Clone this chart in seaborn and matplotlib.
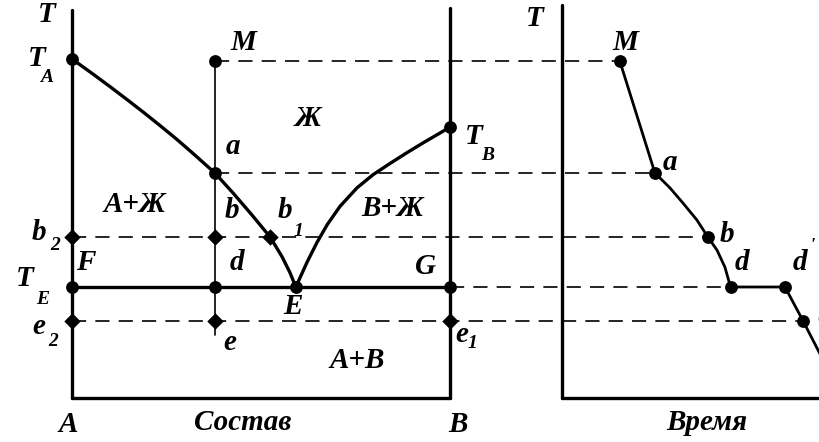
import matplotlib
matplotlib.use("Agg")
import matplotlib.pyplot as plt
import pandas as pd
import seaborn as sns

# --- Temperature levels (0 = bottom of the diagram) ---
T_A = 339      # melting point of A
T_M = 337      # starting temperature of the alloy (point M)
T_B = 271      # melting point of B
T_a = 225      # liquidus crossing of the alloy
T_b = 161      # intermediate level b
T_E = 111      # eutectic temperature
T_e = 77       # level below the eutectic

# --- Compositions (% B) ---
x_A = 0
x_B = 100
x_alloy = 37.8
x_b1 = 52.4
x_E = 59.2

# Liquidus branch starting at T_A
liq_A_x = [0, 5.6, 10.1, 14.6, 18.8, 23.3, 27.8, 32.0, 37.8,
           42.6, 47.6, 52.4, 55.6, 57.7, 59.2]
liq_A_T = [339, 323.8, 311.2, 298.3, 286.0, 272.4, 258.4, 244.6, 225,
           205, 183, 161, 141, 125, 111]
# Liquidus branch starting at T_B
liq_B_x = [59.2, 62.2, 64.8, 67.5, 70.9, 75.4, 79.6, 84.1, 88.6,
           92.9, 97.4, 100]
liq_B_T = [111, 136, 155.5, 173.3, 191.7, 210.2, 223.2, 234.5, 245.3,
           255.2, 265.1, 271]

# Cooling curve of the alloy M (time units)
cool_t = [15.3, 24.6, 28.6, 32.0, 35.7, 38.6, 41.0, 43.1, 44.6,
          59.0, 63.8, 69.5]
cool_T = [337, 225, 210, 195, 178, 161, 148, 131, 111,
          111, 77, 35]
# indices of the marked points M, a, b, d, d', e
i_M, i_a, i_b, i_d, i_d1, i_e = 0, 1, 5, 8, 9, 10

T_top_left = 388
T_top_right = 390
T_top_time = 393
T_alloy_end = 63

# horizontal position of the time axis on the shared canvas
t0 = 129.6

sns.set_theme(style="white")
plt.rcParams["font.family"] = ["Liberation Serif", "DejaVu Serif"]

fig = plt.figure(figsize=(8.19, 4.42), dpi=100)
ax = fig.add_axes([0, 0, 1, 1])
ax.set_xlim(-19.05, 197.6)
ax.set_ylim(-44, 398)
ax.axis("off")

K = "black"
thick = 2.4
thin = 1.2
dash = dict(lw=1.2, dashes=(8.5, 5.5))


def seg(xs, ys, **kw):
    df = pd.DataFrame({"x": xs, "y": ys})
    sns.lineplot(data=df, x="x", y="y", sort=False, estimator=None,
                 color=K, ax=ax, legend=False, **kw)


# frame of the phase diagram
seg([x_A, x_A], [T_top_left, 0], lw=thick)
seg([x_B, x_B], [T_top_right, 0], lw=thick)
seg([x_A, x_B], [0, 0], lw=thick)
# eutectic line
seg([x_A, x_B], [T_E, T_E], lw=thick)
# alloy vertical
seg([x_alloy, x_alloy], [T_M, T_alloy_end], lw=thin)
# liquidus branches
seg(liq_A_x, liq_A_T, lw=thick)
seg(liq_B_x, liq_B_T, lw=thick)

# cooling curve axes
seg([t0, t0], [T_top_time, 0], lw=thick)
seg([t0, 205], [0, 0], lw=thick)
cx = [t0 + t for t in cool_t]
seg(cx, cool_T, lw=2.0)

# projection lines between the diagram and the cooling curve
seg([x_alloy, cx[i_M]], [T_M, T_M], **dash)
seg([x_alloy, cx[i_a]], [T_a, T_a], **dash)
seg([x_A, cx[i_b]], [T_b, T_b], **dash)
seg([x_B, cx[i_d]], [T_E, T_E], **dash)
seg([x_A, cx[i_e]], [T_e, T_e], **dash)

# points
marked = [i_M, i_a, i_b, i_d, i_d1, i_e]
round_pts = pd.DataFrame({
    "x": [x_A, x_alloy, x_alloy, x_B, x_A, x_alloy, x_E, x_B]
         + [cx[i] for i in marked],
    "y": [T_A, T_M, T_a, T_B, T_E, T_E, T_E, T_E]
         + [cool_T[i] for i in marked],
})
sns.scatterplot(data=round_pts, x="x", y="y", s=85, color=K, linewidth=0,
                ax=ax, legend=False, zorder=5)
diam_pts = pd.DataFrame({
    "x": [x_A, x_alloy, x_b1, x_A, x_alloy, x_B],
    "y": [T_b, T_b, T_b, T_e, T_e, T_e],
})
sns.scatterplot(data=diam_pts, x="x", y="y", s=70, marker="D", color=K,
                linewidth=0, ax=ax, legend=False, zorder=5)

# labels
big = 21
small = 14
fkw = dict(style="italic", weight="bold", color=K, ha="center", va="center")


def lab(x, y, s, size=big):
    ax.text(x, y, s, fontsize=size, **fkw)


lab(-6.6, 383, "T")
lab(122.5, 380, "T")
lab(-9.3, 340, "T"); lab(-6.7, 321, "A", small)
lab(45.2, 356, "M")
lab(62.4, 280, "Ж")
lab(42.6, 251, "a")
lab(106.3, 262, "T"); lab(110.0, 242, "B", small)
lab(16.7, 193, "A+Ж")
lab(42.3, 188, "b")
lab(56.3, 188, "b"); lab(59.8, 166, "1", small)
lab(84.9, 190, "B+Ж")
lab(-8.7, 166, "b"); lab(-4.5, 152, "2", small)
lab(3.6, 136, "F")
lab(-12.4, 120, "T"); lab(-7.7, 99, "E", small)
lab(43.7, 135, "d")
lab(93.4, 131, "G")
lab(58.5, 92, "E")
lab(-8.7, 71, "e"); lab(-5.0, 56, "2", small)
lab(41.8, 55, "e")
lab(103.2, 63, "e"); lab(105.8, 54, "1", small)
lab(75.4, 38, "A+B")
lab(-1.1, -27, "A")
lab(45.2, -25, "Состав")
lab(102.1, -27, "B")
lab(146.3, 356, "M")
lab(158.2, 236, "a")
lab(173.3, 164, "b")
lab(177.2, 135, "d")
lab(192.6, 135, "d"); lab(195.8, 152, "'", small)
lab(198.8, 82, "e")
lab(168.0, -25, "Время")

fig.savefig("out.png", dpi=100)
